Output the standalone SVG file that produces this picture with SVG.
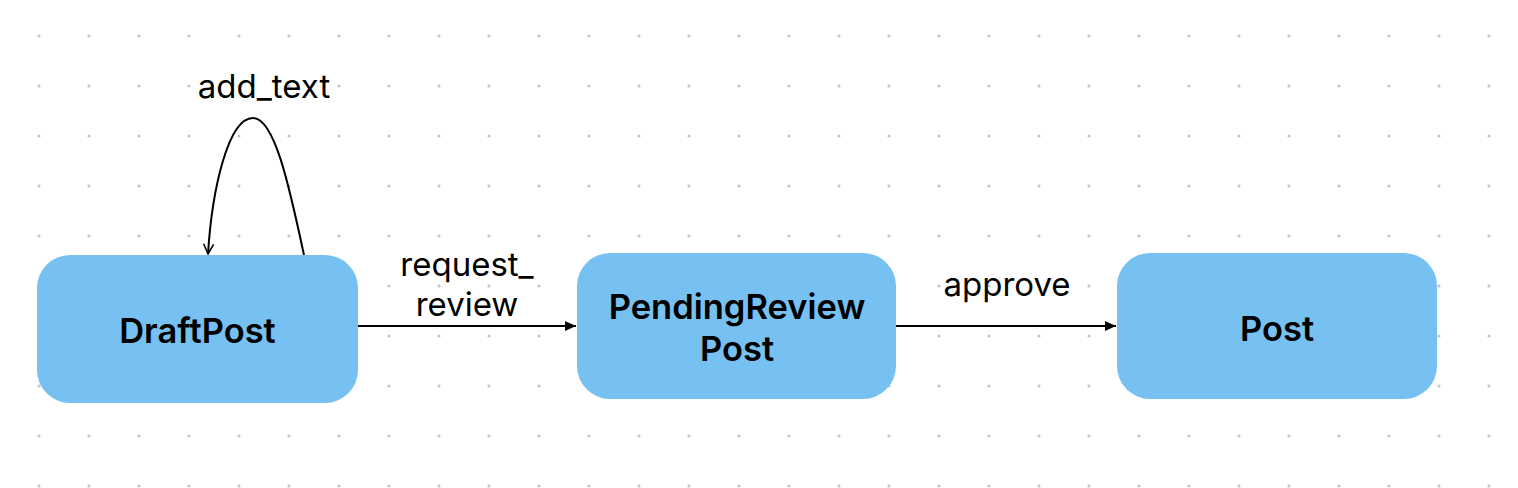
<svg xmlns="http://www.w3.org/2000/svg" width="1518" height="488" viewBox="0 0 1518 488">
<defs>
<pattern id="dots" x="0" y="0" width="50" height="50" patternUnits="userSpaceOnUse">
<circle cx="39" cy="36" r="1.6" fill="#c4c4c4"/>
</pattern>
<marker id="tri" markerWidth="12" markerHeight="10" refX="11" refY="5" orient="auto" markerUnits="userSpaceOnUse">
<path d="M0,0 L11,5 L0,10 Z" fill="#000"/>
</marker>
<marker id="vee" markerWidth="14" markerHeight="14" refX="11" refY="6" orient="auto" markerUnits="userSpaceOnUse">
<path d="M1,1 L11,6 L1,11" fill="none" stroke="#000" stroke-width="1.6"/>
</marker>
</defs>
<style>
.node{fill:#76c1f1}
.nl{font-family:Inter,"Noto Sans",sans-serif;font-weight:600;font-size:34.5px;fill:#000;text-anchor:middle}
.el{font-family:Inter,"Noto Sans",sans-serif;font-size:33px;fill:#000;text-anchor:middle}
.edge{fill:none;stroke:#000;stroke-width:2}
</style>
<rect width="1518" height="488" fill="#fff"/>
<rect width="1518" height="488" fill="url(#dots)"/>
<g id="connectors">
<path class="edge" d="M304,255 C290,190 275,118 253,118 C228,118 212,190 208,254" marker-end="url(#vee)"/>
<line class="edge" x1="358" y1="326" x2="576" y2="326" marker-end="url(#tri)"/>
<line class="edge" x1="896" y1="326" x2="1116" y2="326" marker-end="url(#tri)"/>
<text class="el" x="264" y="98">add_text</text>
<text class="el" x="467" y="276">request_</text>
<text class="el" x="467" y="316">review</text>
<text class="el" x="1007" y="296">approve</text>
</g>
<g id="DraftPost">
<rect class="node" x="37" y="255" width="321" height="148" rx="33"/>
<text class="nl" x="197.5" y="343">DraftPost</text>
</g>
<g id="PendingReviewPost">
<rect class="node" x="577" y="253" width="319" height="146" rx="33"/>
<text class="nl" x="737" y="319">PendingReview</text>
<text class="nl" x="737" y="361">Post</text>
</g>
<g id="Post">
<rect class="node" x="1117" y="253" width="320" height="146" rx="33"/>
<text class="nl" x="1277" y="341">Post</text>
</g>
</svg>
